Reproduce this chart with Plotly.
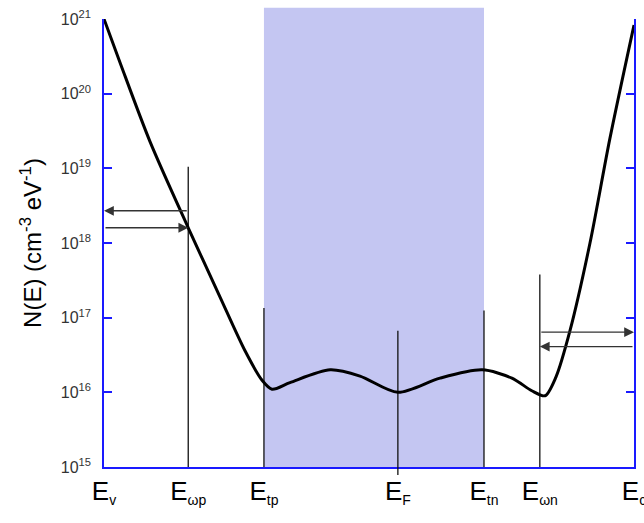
import numpy as np
import plotly.graph_objects as go

# Energy levels (eV, arbitrary reference E_v = 0)
level_names = ["E_v", "E_wp", "E_tp", "E_F", "E_tn", "E_wn", "E_c"]
level_energy = [0.0, 0.178, 0.338, 0.621, 0.803, 0.921, 1.12]
level_labels = ["E<sub><span style='font-size:14px'>v</span></sub>",
                "E<sub><span style='font-size:14px'>ωp</span></sub>",
                "E<sub><span style='font-size:14px'>tp</span></sub>",
                "E<sub><span style='font-size:14px'>F</span></sub>",
                "E<sub><span style='font-size:14px'>tn</span></sub>",
                "E<sub><span style='font-size:14px'>ωn</span></sub>",
                "E<sub><span style='font-size:14px'>c</span></sub>"]

# Density of states curve
curve_E = [0.000, 0.034, 0.097, 0.178, 0.245, 0.298, 0.334, 0.355, 0.393, 0.478,
           0.541, 0.621, 0.710, 0.799, 0.862, 0.904, 0.932, 0.955, 0.985, 1.027,
           1.069, 1.120]
curve_N = [1.0e21, 2.6e20, 2.3e19, 1.6e18, 1.9e17, 3.6e16, 1.45e16, 1.1e16, 1.35e16, 2.0e16,
           1.65e16, 1.0e16, 1.55e16, 2.0e16, 1.55e16, 1.05e16, 9.0e15, 1.6e16, 6.8e16, 1.0e18,
           2.5e19, 8.3e20]

# Vertical marker lines: (energy, top value)
marker_E = [0.178, 0.338, 0.621, 0.803, 0.921]
marker_top = [1.05e19, 1.35e17, 6.7e16, 1.25e17, 3.8e17]

# Arrows: (from energy, to energy, N level)
arrow_from = [0.178, 0.0, 0.921, 1.12]
arrow_to = [0.0, 0.178, 1.12, 0.921]
arrow_N = [2.7e18, 1.6e18, 6.4e16, 4.1e16]

y_tickvals = [1e15, 1e16, 1e17, 1e18, 1e19, 1e20, 1e21]
y_ticktext = ["10<sup>%d</sup>" % p for p in range(15, 22)]

FONT = "Liberation Sans, Arial, sans-serif"
AXIS_BLUE = "#1a1aff"

fig = go.Figure()

# Shaded trap region (E_tp .. E_tn)
fig.add_shape(type="rect", xref="x", yref="paper", x0=level_energy[2], x1=level_energy[4],
              y0=0, y1=1.025, fillcolor="#c4c6f2", line=dict(width=0), layer="below")

# Vertical lines
for e, top in zip(marker_E, marker_top):
    fig.add_trace(go.Scatter(x=[e, e], y=[1e15, top], mode="lines",
                             line=dict(color="#111111", width=1.3),
                             hoverinfo="skip", showlegend=False))
# E_F line extends slightly below the axis
fig.add_shape(type="line", xref="x", yref="paper", x0=level_energy[3], x1=level_energy[3],
              y0=-0.018, y1=0, line=dict(color="#111111", width=1.3))

# DOS curve
fig.add_trace(go.Scatter(x=curve_E, y=curve_N, mode="lines",
                         line=dict(color="black", width=3, shape="spline", smoothing=0.8),
                         showlegend=False))

# Arrows
for a, b, n in zip(arrow_from, arrow_to, arrow_N):
    fig.add_annotation(x=b, y=np.log10(n), ax=a, ay=np.log10(n), xref="x", yref="y",
                       axref="x", ayref="y", text="", showarrow=True,
                       arrowhead=2, arrowsize=1.4, arrowwidth=1.4, arrowcolor="#333333",
                       standoff=0, startstandoff=0)

fig.update_layout(
    width=644, height=523,
    margin=dict(l=104, r=10, t=19, b=56, autoexpand=False),
    plot_bgcolor="white", paper_bgcolor="white",
    font=dict(family=FONT, color="black"),
    xaxis=dict(range=[0, 1.12], tickvals=level_energy, ticktext=level_labels,
               showline=True, linecolor=AXIS_BLUE, linewidth=1.5, mirror=False,
               ticks="", showgrid=False, zeroline=False, ticklabeloverflow="allow",
               automargin=False,
               tickfont=dict(size=26, family=FONT, color="black")),
    yaxis=dict(type="log", range=[15, 21], tickvals=y_tickvals, ticktext=y_ticktext,
               showline=True, linecolor=AXIS_BLUE, linewidth=1.5, mirror="ticks",
               ticks="inside", ticklen=8, tickcolor=AXIS_BLUE, tickwidth=1.5,
               showgrid=False, zeroline=False, ticklabelstandoff=8, automargin=False,
               tickfont=dict(size=16, family=FONT, color="#333333"),
               title=dict(text="N(E) (cm<sup>-3</sup> eV<sup>-1</sup>)",
                          font=dict(size=24, family=FONT, color="black"), standoff=12)),
)

fig.write_html("out.html", config={"displayModeBar": False},
               post_script="document.body.style.margin='0';document.body.style.overflow='hidden';")
